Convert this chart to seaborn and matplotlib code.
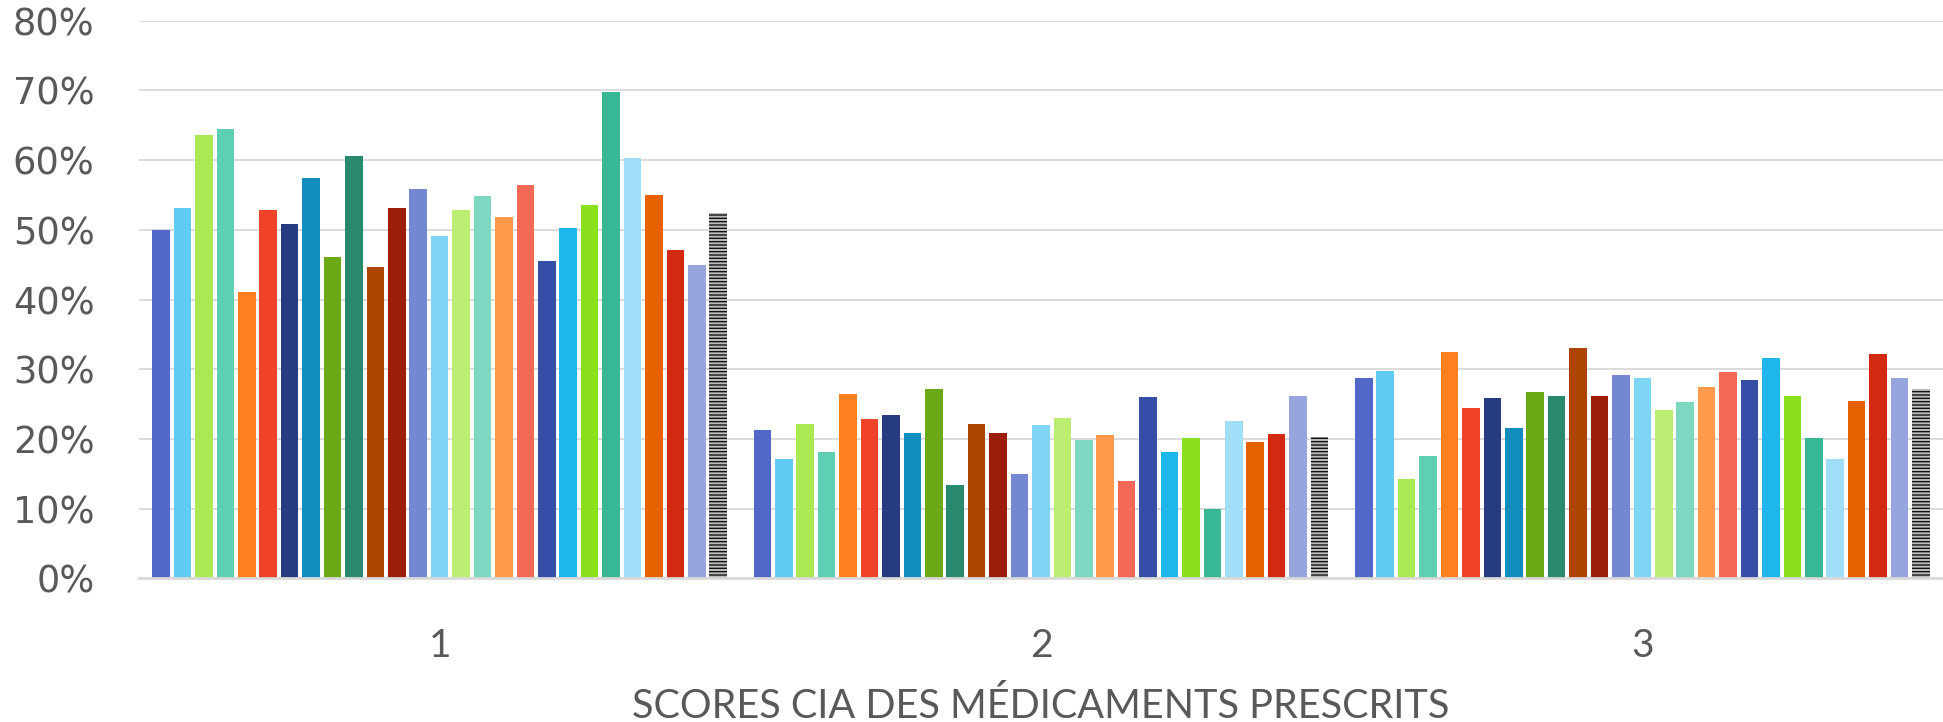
import matplotlib
matplotlib.use("Agg")
import matplotlib.pyplot as plt
import seaborn as sns
import pandas as pd
from matplotlib.ticker import FuncFormatter

groups = ["1", "2", "3"]
series = [f"S{i}" for i in range(1, 28)]

values_g1 = [50.0, 53.2, 63.6, 64.4, 41.1, 52.8, 50.8, 57.5, 46.1, 60.6, 44.7, 53.1, 55.9, 49.1,
             52.9, 54.9, 51.9, 56.5, 45.5, 50.3, 53.6, 69.8, 60.3, 55.0, 47.1, 45.0, 52.4]
values_g2 = [21.3, 17.1, 22.1, 18.1, 26.5, 22.8, 23.4, 20.9, 27.1, 13.4, 22.2, 20.8, 15.0, 22.0,
             23.0, 19.8, 20.5, 13.9, 26.0, 18.1, 20.1, 10.0, 22.6, 19.5, 20.7, 26.2, 20.3]
values_g3 = [28.7, 29.7, 14.3, 17.6, 32.4, 24.4, 25.8, 21.6, 26.7, 26.1, 33.1, 26.1, 29.1, 28.8,
             24.1, 25.3, 27.5, 29.6, 28.4, 31.6, 26.2, 20.1, 17.1, 25.5, 32.2, 28.8, 27.2]

colors = ["#5068C8", "#60CBF3", "#A9EA52", "#5FCFB4", "#FF7F20", "#F04228", "#273B80",
          "#118EBD", "#6AA815", "#29896F", "#AD4500", "#9C1E0A", "#7488D2", "#7FD5F4",
          "#BBED72", "#7ED7C0", "#FF994C", "#F46955", "#344EA8", "#1FB6EC", "#8AE01C",
          "#38B794", "#A0DFF7", "#E66200", "#D12A10", "#96A5DE", "#C8C8C8"]

xlabel = "SCORES CIA DES MÉDICAMENTS PRESCRITS"
yticks = [0, 10, 20, 30, 40, 50, 60, 70, 80]

rows = []
for g, vals in zip(groups, [values_g1, values_g2, values_g3]):
    for s, v in zip(series, vals):
        rows.append({"group": g, "series": s, "value": v})
df = pd.DataFrame(rows)

sns.set_theme(style="white")
plt.rcParams['font.family'] = ['DejaVu Sans']

fig = plt.figure(figsize=(19.43, 7.22), dpi=100)
ax = fig.add_axes([0.0715, 0.199, 0.9285, 0.7723])

sns.barplot(data=df, x="group", y="value", hue="series", hue_order=series, order=groups,
            palette=colors, width=0.962, gap=0.18, dodge=True, legend=False,
            linewidth=0, ax=ax, saturation=1)

# hatched last series
for bar in ax.containers[-1]:
    bar.set_facecolor("#bdbdbd")
    bar.set_hatch("-----")
    bar.set_edgecolor("#111111")
    bar.set_linewidth(0)

ax.set_ylim(0, 80)
ax.set_xlim(-0.5, 2.5)
ax.set_yticks(yticks)
ax.yaxis.set_major_formatter(FuncFormatter(lambda v, p: f"{int(v)}%"))
ax.grid(axis="y", color="#d9d9d9", linewidth=1.3)
ax.set_axisbelow(True)
for sp in ["top", "right", "left"]:
    ax.spines[sp].set_visible(False)
ax.spines["bottom"].set_color("#d9d9d9")
ax.spines["bottom"].set_linewidth(2)

ax.tick_params(axis="y", length=0, pad=32, labelsize=26.5, labelcolor="#595959")
ax.tick_params(axis="x", length=0, pad=36, labelcolor="#595959")
for lab in ax.get_yticklabels():
    lab.set_family(["DejaVu Sans"])
for lab in ax.get_xticklabels():
    lab.set_family(["Lato", "DejaVu Sans"])
    lab.set_fontsize(28)

ax.set_ylabel("")
ax.set_xlabel(xlabel, fontsize=28.5, color="#595959",
              family=["Lato", "DejaVu Sans"], labelpad=16)

fig.savefig("out.png", dpi=100)
